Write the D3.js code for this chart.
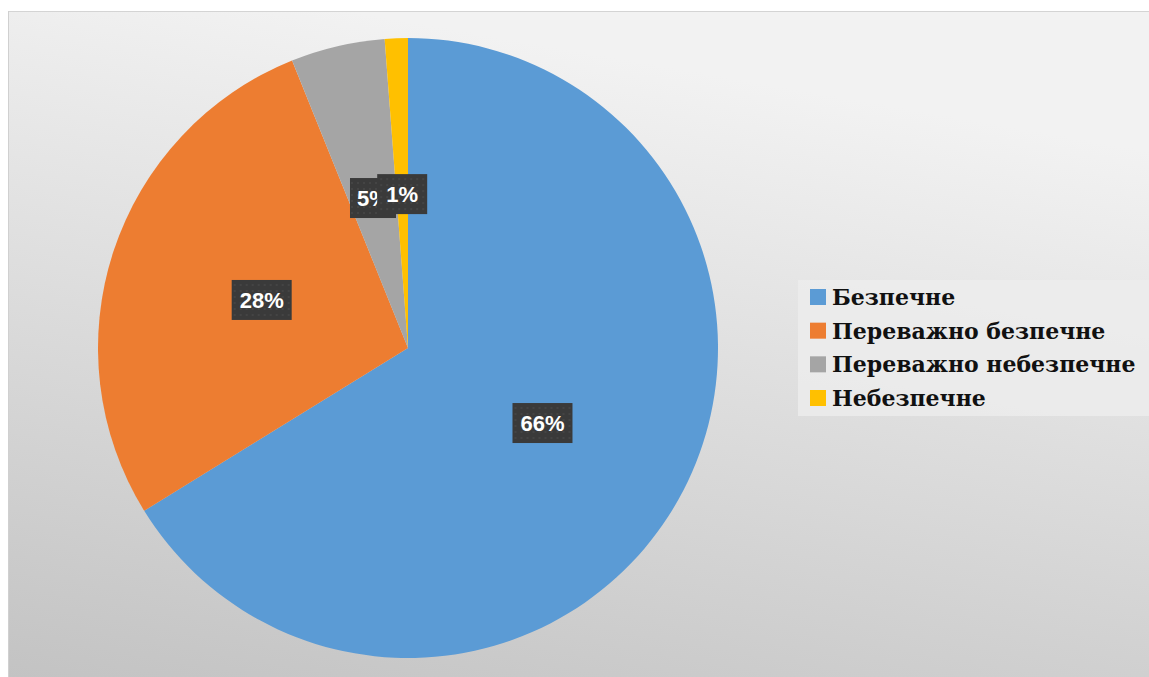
<!DOCTYPE html>
<html><head><meta charset="utf-8">
<script src="https://cdn.jsdelivr.net/npm/d3@7"></script>
<style>html,body{margin:0;padding:0;background:#fff;}svg{display:block;}</style>
</head><body>
<script>
const categories = ["Безпечне", "Переважно безпечне", "Переважно небезпечне", "Небезпечне"];
const values = [66.2, 27.7, 4.9, 1.2];
const colors = ["#5B9BD5", "#ED7D31", "#A5A5A5", "#FFC000"];

const W = 1149, H = 677;
const svg = d3.select("body").append("svg").attr("width", W).attr("height", H);
const defs = svg.append("defs");
const g1 = defs.append("linearGradient").attr("id","bg").attr("x1","0.3").attr("y1","0").attr("x2","0").attr("y2","1");
g1.append("stop").attr("offset","0").attr("stop-color","#f2f2f2");
g1.append("stop").attr("offset","1").attr("stop-color","#c3c3c3");
const pat = defs.append("pattern").attr("id","dots").attr("width",6).attr("height",6).attr("patternUnits","userSpaceOnUse");
pat.append("rect").attr("width",6).attr("height",6).attr("fill","#3a3a3a");
pat.append("circle").attr("cx",3).attr("cy",3).attr("r",0.8).attr("fill","#505050");

// chart area
svg.append("rect").attr("x",8).attr("y",11).attr("width",W-8).attr("height",H-11).attr("fill","url(#bg)");
svg.append("line").attr("x1",8).attr("x2",W).attr("y1",11.5).attr("y2",11.5).attr("stroke","#d4d4d4");
svg.append("line").attr("x1",8.5).attr("x2",8.5).attr("y1",11).attr("y2",H).attr("stroke","#d0d0d0");

const cx = 408, cy = 348, R = 310;
const pie = d3.pie().sort(null).value(d => d)(values);
const arc = d3.arc().innerRadius(0).outerRadius(R);
const labelArc = d3.arc().innerRadius(154).outerRadius(154);
const gp = svg.append("g").attr("transform", `translate(${cx},${cy})`);
gp.selectAll("path.slice").data(pie).join("path").attr("class","slice")
  .attr("d", arc).attr("fill", (d,i) => colors[i]);

// labels
const lab = gp.selectAll("g.lab").data(pie).join("g").attr("class","lab")
  .attr("transform", d => { const c = labelArc.centroid(d); return `translate(${c[0]},${c[1]})`; });
const bw = [60, 60, 46, 50];
lab.append("rect").attr("x",(d,i)=>-bw[i]/2).attr("y",-20).attr("width",(d,i)=>bw[i]).attr("height",40)
  .attr("fill","url(#dots)");
lab.append("text").attr("text-anchor","middle").attr("dy","0.36em")
  .attr("font-family","'Liberation Sans', Arial, sans-serif").attr("font-weight","bold").attr("font-size",22)
  .attr("fill","#fff").text(d => Math.round(d.data) + "%");

// legend
svg.append("rect").attr("x",798).attr("y",280).attr("width",W-798).attr("height",136).attr("fill","#ececec").attr("opacity",0.85);
const ly = d3.scalePoint().domain(categories).range([297, 398]);
const lg = svg.selectAll("g.leg").data(categories).join("g").attr("class","leg")
  .attr("transform", d => `translate(810,${ly(d)})`);
lg.append("rect").attr("x",0).attr("y",-8).attr("width",16).attr("height",16).attr("fill",(d,i)=>colors[i]);
lg.append("text").attr("x",22).attr("dy","0.36em")
  .attr("font-family","'DejaVu Serif', serif").attr("font-weight","bold").attr("font-size",22)
  .attr("fill","#111").text(d => d);
</script>
</body></html>
